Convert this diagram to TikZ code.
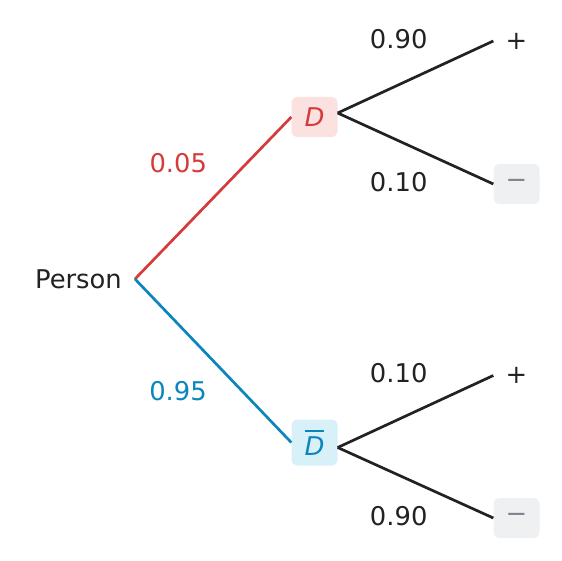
\documentclass[tikz,border=0pt]{standalone}
\usepackage{fontspec}
\setmainfont{DejaVu Sans}
\usepackage{xcolor}
\usepackage{tikz}
\usetikzlibrary{positioning}

\definecolor{inkdark}{HTML}{222222}
\definecolor{sickred}{HTML}{D63B3B}
\definecolor{sickfill}{HTML}{FCE1E1}
\definecolor{wellblue}{HTML}{0A86BC}
\definecolor{wellfill}{HTML}{D8F0F8}
\definecolor{negfill}{HTML}{EEF0F2}
\definecolor{neggray}{HTML}{7D858D}

\begin{document}
\begin{tikzpicture}[
            x=1pt, y=-1pt,
            bigfont/.style={font=\fontsize{25.8}{30}\selectfont},
            state/.style={bigfont, rounded corners=6pt,
                    minimum width=46pt, minimum height=40pt, inner sep=0pt},
            leaf/.style={bigfont, rounded corners=6pt, text=inkdark,
                    minimum width=46pt, minimum height=40pt, inner sep=0pt},
            prob/.style={bigfont, inner sep=0pt, text=inkdark},
            branch/.style={line width=2.7pt, color=inkdark}
        ]
        \useasboundingbox (0,0) rectangle (562,561);

        % ---------------------------------------------------------------
        % NODES
        % ---------------------------------------------------------------

        % Root
        \node[bigfont, text=inkdark, anchor=east, inner xsep=13pt, inner ysep=0pt]
            (person) at (135,279) {Person};

        % Disease states
        \node[state, fill=sickfill, text=sickred] (sick) at (314.5,117) {\itshape D};
        \node[state, fill=wellfill, text=wellblue, minimum height=46pt] (well) at (314.5,442.5)
            {\vbox{\hrule height 2pt\kern 5pt\hbox{\itshape D}}};

        % Test results
        \node[leaf] (sickpos) at (516.5,41) {+};
        \node[leaf, fill=negfill, text=neggray] (sickneg) at (516.5,184) {−};
        \node[leaf] (wellpos) at (516.5,375.5) {+};
        \node[leaf, fill=negfill, text=neggray] (wellneg) at (516.5,518) {−};

        % Probabilities
        \node[prob, text=sickred] (psick) at (178.3,163) {0.05};
        \node[prob, text=wellblue] (pwell) at (178,391.5) {0.95};
        \node[prob] (psickpos) at (398.7,39.5) {0.90};
        \node[prob] (psickneg) at (398.7,181.7) {0.10};
        \node[prob] (pwellpos) at (398.7,373.5) {0.10};
        \node[prob] (pwellneg) at (398.7,516) {0.90};

        % Branches
        \draw[branch, color=sickred] (person.east) -- (sick.west);
        \draw[branch, color=wellblue] (person.east) -- (well.west);
        \draw[branch] ([yshift=4pt]sick.east) -- (sickpos.west);
        \draw[branch] ([yshift=4pt]sick.east) -- (sickneg.west);
        \draw[branch] ([yshift=-5pt]well.east) -- (wellpos.west);
        \draw[branch] ([yshift=-5pt]well.east) -- (wellneg.west);

    \end{tikzpicture}
\end{document}
